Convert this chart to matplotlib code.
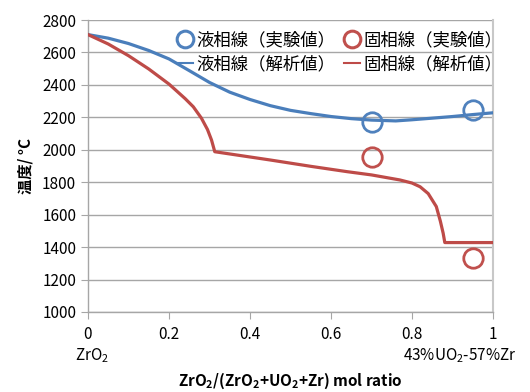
import matplotlib
matplotlib.use("Agg")
import matplotlib.pyplot as plt
from matplotlib.lines import Line2D

plt.rcParams['font.family'] = ['Noto Sans CJK JP', 'DejaVu Sans']
plt.rcParams['mathtext.default'] = 'regular'

# Liquidus from analysis (mol ratio, deg C)
liq_x = [0.00, 0.05, 0.10, 0.15, 0.20, 0.25, 0.30, 0.35, 0.40, 0.45, 0.50,
         0.55, 0.60, 0.65, 0.70, 0.76, 0.80, 0.85, 0.90, 0.95, 1.00]
liq_t = [2710, 2688, 2655, 2612, 2560, 2488, 2415, 2355, 2310, 2272, 2243,
         2223, 2205, 2192, 2183, 2178, 2185, 2195, 2205, 2217, 2228]

# Solidus from analysis
sol_x = [0.00, 0.05, 0.10, 0.15, 0.20, 0.24, 0.26, 0.28, 0.295, 0.305, 0.313,
         0.45, 0.55, 0.64, 0.70, 0.77, 0.80, 0.82, 0.84, 0.86, 0.87, 0.877,
         0.881, 1.00]
sol_t = [2710, 2652, 2580, 2498, 2405, 2315, 2265, 2195, 2125, 2060, 1988,
         1937, 1898, 1865, 1845, 1814, 1795, 1772, 1730, 1650, 1560, 1485,
         1428, 1428]

# Experimental points
exp_x = [0.70, 0.95]
exp_liq = [2173, 2245]
exp_sol = [1954, 1331]

blue = '#4A7EBB'
red = '#BE4B48'

fig = plt.figure(figsize=(5.3, 3.92), dpi=100)
ax = fig.add_axes([88 / 530, 1 - 312 / 392, 405 / 530, 292 / 392])

ax.plot(liq_x, liq_t, color=blue, lw=2.3, zorder=3)
ax.plot(sol_x, sol_t, color=red, lw=2.3, zorder=3)
ax.plot(exp_x, exp_liq, 'o', ms=14, mfc='none', mec='#4F81BD', mew=2.0, zorder=4)
ax.plot(exp_x, exp_sol, 'o', ms=14, mfc='none', mec='#C0504D', mew=2.0, zorder=4)

ax.set_xlim(0, 1)
ax.set_ylim(1000, 2800)
ax.set_xticks([0, 0.2, 0.4, 0.6, 0.8, 1.0])
ax.set_xticklabels(['0', '0.2', '0.4', '0.6', '0.8', '1'])
ax.set_yticks(range(1000, 2801, 200))

ax.yaxis.grid(True, color='#A6A6A6', lw=1.0)
ax.set_axisbelow(True)
for side in ['left', 'bottom', 'right']:
    ax.spines[side].set_color('#A6A6A6')
    ax.spines[side].set_linewidth(1.0)
ax.spines['right'].set_color('#C8C8C8')
ax.spines['right'].set_linewidth(1.5)
ax.spines['top'].set_visible(False)
ax.tick_params(direction='out', length=5, color='#A6A6A6', labelsize=11,
               labelcolor='#000000')
ax.tick_params(axis='x', pad=5)

ax.text(0.01, -0.148, r'ZrO$_2$', transform=ax.transAxes, ha='center', va='center',
        fontsize=11)
ax.text(1.059, -0.148, r'43%UO$_2$-57%Zr', transform=ax.transAxes, ha='right',
        va='center', fontsize=11)
fig.text(290 / 530, 1 - 381 / 392, r'ZrO$_2$/(ZrO$_2$+UO$_2$+Zr) mol ratio',
         ha='center', va='center', fontsize=11, fontweight='bold')
ax.set_ylabel('温度/ °C', fontsize=11, fontweight='bold', labelpad=6)

handles = [
    Line2D([], [], ls='none', marker='o', ms=12, mfc='none', mec='#4F81BD', mew=2.2),
    Line2D([], [], color=blue, lw=1.5),
    Line2D([], [], ls='none', marker='o', ms=12, mfc='none', mec='#C0504D', mew=2.2),
    Line2D([], [], color=red, lw=1.5),
]
labels = ['液相線（実験値）', '液相線（解析値）', '固相線（実験値）', '固相線（解析値）']
ax.legend(handles, labels, ncol=2, loc='upper right', bbox_to_anchor=(1.04, 0.985),
          frameon=False, fontsize=12.5, handlelength=0.9, handletextpad=0.2,
          columnspacing=0.5, labelspacing=0.35, borderaxespad=0.0)

fig.savefig('out.png', dpi=100)
